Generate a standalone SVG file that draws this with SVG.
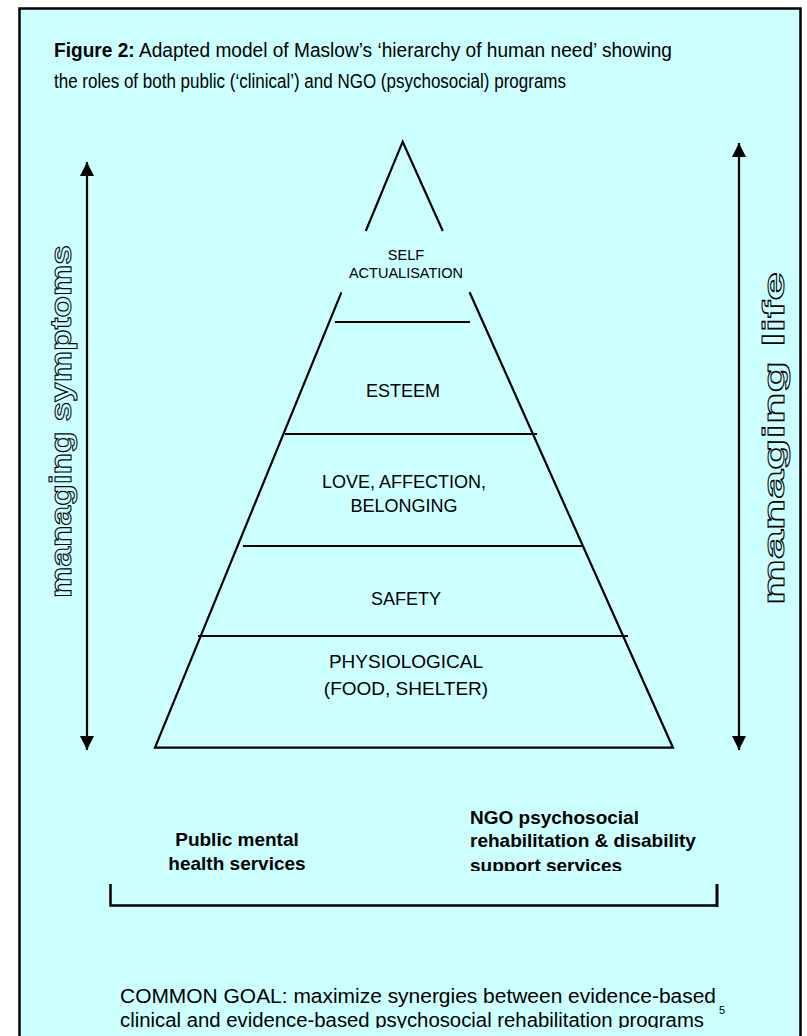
<svg xmlns="http://www.w3.org/2000/svg" width="807" height="1036" viewBox="0 0 807 1036">
<defs>
<style>
.t{font-family:"Liberation Sans",Arial,sans-serif;fill:#000}
.lvl{font-size:18px;text-anchor:middle}
.b{font-weight:bold;font-size:19px}
.ln{stroke:#000;stroke-width:2.2;fill:none}
.out{font-family:"Liberation Sans",Arial,sans-serif;font-size:30px;font-weight:bold;fill:#CCFFFF;stroke:#000;stroke-width:1}
</style>
<marker id="ah" viewBox="0 0 10 10" refX="10" refY="5" markerWidth="14" markerHeight="14" markerUnits="userSpaceOnUse" orient="auto-start-reverse"><path d="M0,0 L10,5 L0,10 z" fill="#000"/></marker>
<clipPath id="c1"><rect x="0" y="0" width="807" height="871"/></clipPath>
<clipPath id="c2"><rect x="0" y="0" width="807" height="1028"/></clipPath>
</defs>
<rect x="0" y="0" width="807" height="1036" fill="#fff"/>
<rect x="19.5" y="8.5" width="781" height="1040" fill="#CCFFFF" stroke="#000" stroke-width="2.5"/>

<g id="title">
<text class="t" x="54" y="57" font-size="20" textLength="618" lengthAdjust="spacingAndGlyphs"><tspan font-weight="bold">Figure 2:</tspan> Adapted model of Maslow’s ‘hierarchy of human need’ showing</text>
<text class="t" x="54" y="88" font-size="20" textLength="512" lengthAdjust="spacingAndGlyphs">the roles of both public (‘clinical’) and NGO (psychosocial) programs</text>
</g>

<g id="pyramid">
<path class="ln" d="M365.8,231 L402.7,141.7 L442.8,231"/>
<path class="ln" d="M341.4,292.3 L155,747.7 L673,747.7 L469.6,292.3"/>
</g>

<g id="level-self">
<text class="t" x="406" y="260" font-size="14.5" text-anchor="middle">SELF</text>
<text class="t" x="406" y="278" font-size="14.5" text-anchor="middle">ACTUALISATION</text>
</g>
<g id="level-esteem">
<line class="ln" x1="335" y1="322" x2="470" y2="322"/>
<text class="t lvl" x="403" y="397">ESTEEM</text>
</g>
<g id="level-love">
<line class="ln" x1="285" y1="434" x2="537" y2="434"/>
<text class="t lvl" x="404" y="488">LOVE, AFFECTION,</text>
<text class="t lvl" x="404" y="512">BELONGING</text>
</g>
<g id="level-safety">
<line class="ln" x1="243" y1="546" x2="583" y2="546"/>
<text class="t lvl" x="406" y="605">SAFETY</text>
</g>
<g id="level-physiological">
<line class="ln" x1="198" y1="636" x2="628" y2="636"/>
<text class="t" x="406" y="668" font-size="19" text-anchor="middle">PHYSIOLOGICAL</text>
<text class="t" x="406" y="695" font-size="19" text-anchor="middle">(FOOD, SHELTER)</text>
</g>

<g id="connectors">
<line class="ln" x1="87" y1="162" x2="87" y2="750" marker-start="url(#ah)" marker-end="url(#ah)"/>
<line class="ln" x1="739" y1="143" x2="739" y2="750" marker-start="url(#ah)" marker-end="url(#ah)"/>
<path d="M110.5,884 V905.5 H717" fill="none" stroke="#000" stroke-width="2.5"/>
<line x1="717" y1="884" x2="717" y2="907" stroke="#000" stroke-width="3"/>
</g>

<g id="label-symptoms">
<text class="out" transform="translate(71,598) rotate(-90)" textLength="353" lengthAdjust="spacingAndGlyphs">managing symptoms</text>
</g>
<g id="label-life">
<text class="out" transform="translate(784,605) rotate(-90)" textLength="333" lengthAdjust="spacingAndGlyphs">managing life</text>
</g>

<g id="public" clip-path="url(#c1)">
<text class="t b" x="237" y="846" text-anchor="middle">Public mental</text>
<text class="t b" x="237" y="870" text-anchor="middle">health services</text>
</g>
<g id="ngo" clip-path="url(#c1)">
<text class="t b" x="470" y="824">NGO psychosocial</text>
<text class="t b" x="470" y="847">rehabilitation &amp; disability</text>
<text class="t b" x="470" y="872">support services</text>
</g>

<g id="goal" clip-path="url(#c2)">
<text class="t" x="120" y="1003" font-size="20.5" textLength="596" lengthAdjust="spacingAndGlyphs">COMMON GOAL: maximize synergies between evidence-based</text>
<text class="t" x="120" y="1027" font-size="19.5" textLength="584" lengthAdjust="spacingAndGlyphs">clinical and evidence-based psychosocial rehabilitation programs</text>
<text class="t" x="719" y="1014" font-size="11">5</text>
</g>
</svg>
